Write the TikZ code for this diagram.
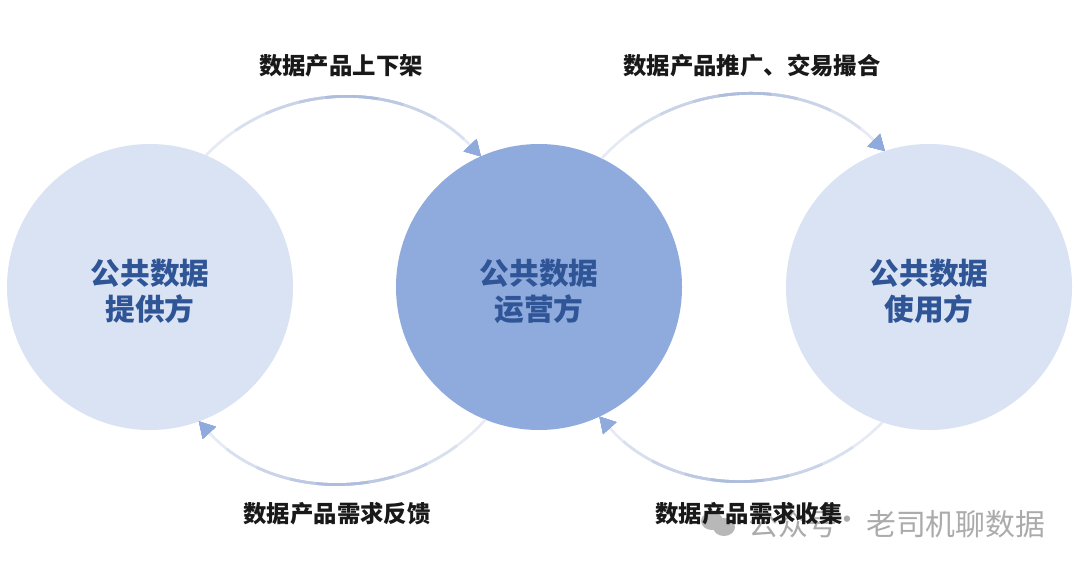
\documentclass[tikz,border=0pt]{standalone}
\usepackage{fontspec}
\setmainfont{Noto Sans CJK SC}
\usetikzlibrary{arrows.meta}
\definecolor{lightdisc}{HTML}{DAE3F3}
\definecolor{maindisc}{HTML}{8FAADC}
\definecolor{disctext}{HTML}{2F5597}
\definecolor{flowend}{HTML}{E6EAF4}
\definecolor{flowmid}{HTML}{AFBDDD}
\tikzset{
	disc/.style={circle,minimum size=5.72cm,inner sep=0pt,outer sep=0pt},
	disclabel/.style={align=center,text=disctext,font=\fontsize{16.9}{20.4}\selectfont\bfseries},
	flowlabel/.style={font=\fontsize{13.3}{15}\selectfont\bfseries,text=black!90},
	flowline/.style={line width=1.5pt,flowend,-{Triangle[length=0.31cm,width=0.36cm,color=maindisc,line width=0pt]}},
	markmain/.style={font=\fontsize{17}{20}\selectfont,text=black!33}
}
\begin{document}
\begin{tikzpicture}
	\useasboundingbox[fill=white](0,0)rectangle(21.6,11.28);
	\node[disc,fill=lightdisc](provider)at(3,5.54){};
	\node[disc,fill=maindisc](operator)at(10.78,5.54){};
	\node[disc,fill=lightdisc](consumer)at(18.58,5.54){};
	\node[disclabel](providertext)at(3,5.46){公共数据\\提供方};
	\node[disclabel](operatortext)at(10.78,5.46){公共数据\\运营方};
	\node[disclabel](consumertext)at(18.58,5.46){公共数据\\使用方};
	\node[flowlabel](listlabel)at(6.82,9.96){数据产品上下架};
	\node[flowlabel](tradelabel)at(15.04,9.96){数据产品推广、交易撮合};
	\node[flowlabel](backlabel)at(6.74,1){数据产品需求反馈};
	% watermark
	\fill[black!28](14.24,0.86)ellipse(0.22 and 0.18);
	\fill[black!28](14.48,0.74)ellipse(0.22 and 0.18);
	\node[markmain](markname)at(15.86,0.8){公众号};
	\node[markmain](markdot)at(16.94,0.82){·};
	\node[markmain,anchor=west](markbrand)at(17.2,0.8){老司机聊数据};
	\node[flowlabel](needlabel)at(14.98,1){数据产品需求收集};
	% each arc is one curve, darkened towards its middle
	\foreach \a/\b/\n in{provider.67/operator.114/46,operator.64/consumer.108/46,consumer.-109/operator.-65/47,operator.-112/provider.-70/48}{
		\draw[flowline](\a)to[bend left=\n](\b);
		\foreach \o/\l/\m in{22/140/25,42/100/50,62/60/75,77/30/100}
		\draw[flowline,color=flowmid!\m!flowend,dash pattern=on 0pt off \o pt on \l pt off 400pt](\a)to[bend left=\n](\b);
	}
\end{tikzpicture}
\end{document}
